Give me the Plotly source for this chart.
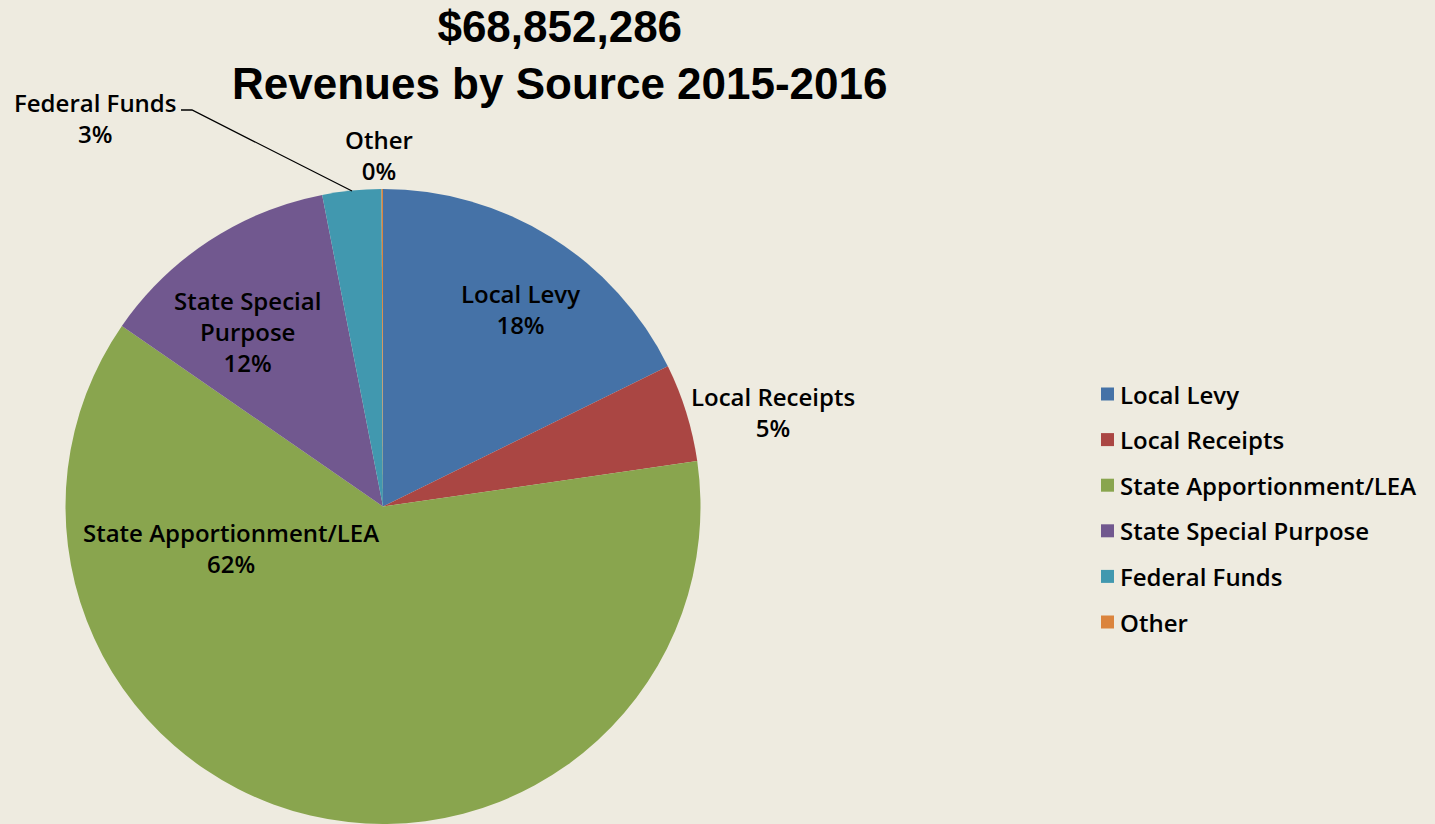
import plotly.graph_objects as go

# ---- data ----
categories = ["Local Levy", "Local Receipts", "State Apportionment/LEA",
              "State Special Purpose", "Federal Funds", "Other"]
amounts = [12200000, 3440000, 42630000, 8470000, 2062286, 50000]   # dollars, total $68,852,286
pct_labels = ["18%", "5%", "62%", "12%", "3%", "0%"]
slice_label_text = ["Local Levy", "Local Receipts", "State Apportionment/LEA",
                    "State Special<br>Purpose", "Federal Funds", "Other"]
colors = ["#4572A7", "#AA4643", "#89A54E", "#71588F", "#4198AF", "#DB843D"]
title_lines = ["$68,852,286", "Revenues by Source 2015-2016"]

W, H = 1435, 824
BG = "#EEEBE0"
FONT = "Open Sans"
FS = 24

def px(x):
    return x / W

def py(y):
    return 1 - y / H

fig = go.Figure()
fig.add_trace(go.Pie(
    labels=categories,
    values=amounts,
    sort=False,
    direction="clockwise",
    rotation=0,
    marker=dict(colors=colors, line=dict(width=0)),
    textinfo="none",
    hoverinfo="label+percent+value",
    showlegend=False,
    domain=dict(x=[px(65.5), px(700.5)], y=[0, py(189)]),
))

annotations = []
# title
annotations.append(dict(
    text="<br>".join(title_lines), x=px(560), y=py(0), xref="paper", yref="paper",
    xanchor="center", yanchor="top", showarrow=False, align="center",
    font=dict(family="Liberation Sans", size=44, color="#000000", weight="bold"),
))

# data label positions (pixel centres of each label block)
label_pos = [(520, 309), (773, 412), (231, 548), (247, 331), (95, 118), (379, 155)]
for name, pct, (lx, ly) in zip(slice_label_text, pct_labels, label_pos):
    annotations.append(dict(
        text=f"{name}<br>{pct}", x=px(lx), y=py(ly), xref="paper", yref="paper",
        xanchor="center", yanchor="middle", showarrow=False, align="center",
        font=dict(family=FONT, size=FS, color="#000000", weight=600),
    ))

# manual legend
shapes = []
leg_y0, leg_dy = 394, 45.6
for i, (name, col) in enumerate(zip(categories, colors)):
    cy = leg_y0 + i * leg_dy
    shapes.append(dict(type="rect", xref="paper", yref="paper",
                       x0=px(1101), x1=px(1114), y0=py(cy + 6.5), y1=py(cy - 6.5),
                       fillcolor=col, line=dict(width=0)))
    annotations.append(dict(
        text=name, x=px(1118), y=py(cy), xref="paper", yref="paper",
        xanchor="left", yanchor="middle", showarrow=False,
        font=dict(family=FONT, size=FS, color="#000000", weight=600),
    ))

# leader line for Federal Funds
shapes.append(dict(type="path", xref="paper", yref="paper",
                   path=f"M {px(181)} {py(110)} L {px(192)} {py(110)} L {px(352)} {py(191)}",
                   line=dict(color="#000000", width=1.3)))

fig.update_layout(
    width=W, height=H,
    margin=dict(l=0, r=0, t=0, b=0),
    paper_bgcolor=BG, plot_bgcolor=BG,
    annotations=annotations, shapes=shapes,
    showlegend=False,
)

fig.write_html("out.html",
               config={"displayModeBar": False},
               post_script="document.body.style.margin='0';document.body.style.overflow='hidden';")
